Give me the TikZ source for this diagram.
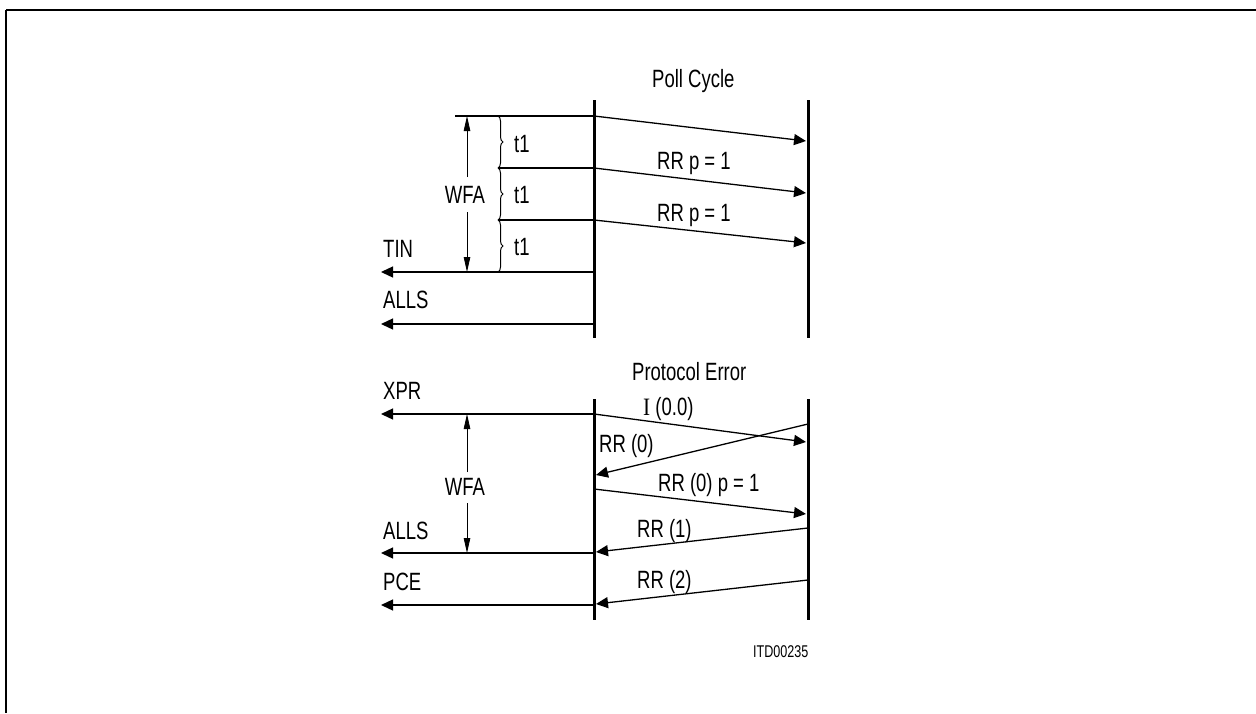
\documentclass[tikz,border=0pt]{standalone}
\usepackage{fontspec}
\setmainfont{Liberation Sans}[FakeStretch=0.74]
\newfontfamily\romanI{Liberation Serif}[FakeStretch=0.85]
\usetikzlibrary{arrows.meta,decorations.pathreplacing}
\begin{document}
\begin{tikzpicture}[x=1pt,y=-1pt,
  lbl/.style={font=\fontsize{25}{29}\selectfont, inner sep=0pt, anchor=base west},
  dimlbl/.style={font=\fontsize{25}{29}\selectfont, inner sep=0pt, anchor=base},
  small/.style={font=\fontsize{17}{20}\selectfont, inner sep=0pt, anchor=base west},
  life/.style={line width=3pt},
  msg/.style={line width=1.3pt, -{Triangle[length=12pt,width=11pt]}},
  dimarrow/.style={line width=0.8pt, -{Triangle[length=15pt,width=6.5pt]}},
  tick/.style={line width=1.3pt},
  brc/.style={line width=1pt, decorate, decoration={brace, amplitude=5pt}}]
\useasboundingbox (0,0) rectangle (1256,713);
% frame
\coordinate (fr1) at (1256,10);
\coordinate (fr2) at (6,10);
\coordinate (fr3) at (6,713);
\draw[line width=1.3pt] (fr1) -- (fr2);
\draw[line width=2pt] (fr2) -- (fr3);

% ---------- Poll cycle ----------
\coordinate (A1) at (594,100); \coordinate (A2) at (594,338);
\coordinate (B1) at (808,100); \coordinate (B2) at (808,338);
\draw[life] (A1) -- (A2);
\draw[life] (B1) -- (B2);

\coordinate (u0) at (455,116);
\coordinate (u1) at (594,116); \coordinate (u1e) at (806,141);
\coordinate (b2) at (498,168);
\coordinate (u2) at (594,168); \coordinate (u2e) at (806,193);
\coordinate (b3) at (498,220);
\coordinate (u3) at (594,220); \coordinate (u3e) at (806,243);
\coordinate (b1) at (498,116);
\coordinate (b4) at (498,272);
\coordinate (u4) at (594,272); \coordinate (u4e) at (381,272);
\coordinate (u5) at (594,324); \coordinate (u5e) at (381,324);

\draw[tick] (u0) -- (u1);
\draw[tick] (b2) -- (u2);
\draw[tick] (b3) -- (u3);
\draw[msg] (u1) -- (u1e);
\draw[msg] (u2) -- (u2e);
\draw[msg] (u3) -- (u3e);
\draw[msg] (u4) -- (u4e);
\draw[msg] (u5) -- (u5e);

\draw[brc] (b1) -- (b2);
\draw[brc] (b2) -- (b3);
\draw[brc] (b3) -- (b4);

\node[lbl] (pc) at (652,87) {Poll Cycle};
\node[lbl] (rr1) at (657,169.5) {RR p = 1};
\node[lbl] (rr2) at (657,221.5) {RR p = 1};
\node[lbl] (t1a) at (514,152) {t1};
\node[lbl] (t1b) at (514,203) {t1};
\node[lbl] (t1c) at (514,255) {t1};
\node[lbl] (tin) at (383,257) {TIN};
\node[lbl] (alls1) at (383,308) {ALLS};

\node[dimlbl] (wfa1) at (465,203) {WFA};
\coordinate (w1t) at (467,116); \coordinate (w1a) at (467,177);
\coordinate (w1b) at (467,212); \coordinate (w1e) at (467,272);
\draw[dimarrow] (w1a) -- (w1t);
\draw[dimarrow] (w1b) -- (w1e);

% ---------- Protocol error ----------
\coordinate (C1) at (594,399); \coordinate (C2) at (594,620);
\coordinate (D1) at (808,399); \coordinate (D2) at (808,620);
\draw[life] (C1) -- (C2);
\draw[life] (D1) -- (D2);

\coordinate (l1) at (594,414); \coordinate (l1w) at (381,414); \coordinate (l1e) at (806,442);
\coordinate (r0) at (808,424); \coordinate (r0e) at (596,475);
\coordinate (l2) at (594,489); \coordinate (l2e) at (806,514);
\coordinate (r1) at (808,528); \coordinate (r1e) at (596,552);
\coordinate (l3) at (594,553); \coordinate (l3w) at (381,553);
\coordinate (r2) at (808,580); \coordinate (r2e) at (596,604);
\coordinate (l4) at (594,605); \coordinate (l4w) at (381,605);

\draw[msg] (l1) -- (l1w);
\draw[msg] (l1) -- (l1e);
\draw[msg] (r0) -- (r0e);
\draw[msg] (l2) -- (l2e);
\draw[msg] (r1) -- (r1e);
\draw[msg] (l3) -- (l3w);
\draw[msg] (r2) -- (r2e);
\draw[msg] (l4) -- (l4w);

\node[lbl] (pe) at (632,380) {Protocol Error};
\node[lbl] (xpr) at (383,399) {XPR};
\node[lbl] (i00) at (643,415) {{\romanI I} (0.0)};
\node[lbl] (rr0) at (599,452) {RR (0)};
\node[lbl] (rr0p) at (658,491) {RR (0) p = 1};
\node[lbl] (rrn1) at (637,537) {RR (1)};
\node[lbl] (alls2) at (383,539) {ALLS};
\node[lbl] (rrn2) at (637,588) {RR (2)};
\node[lbl] (pce) at (383,590) {PCE};

\node[dimlbl] (wfa2) at (465,495) {WFA};
\coordinate (w2t) at (467,414); \coordinate (w2a) at (467,472);
\coordinate (w2b) at (467,503); \coordinate (w2e) at (467,553);
\draw[dimarrow] (w2a) -- (w2t);
\draw[dimarrow] (w2b) -- (w2e);

\node[small] (itd) at (753,657) {ITD00235};
\end{tikzpicture}
\end{document}
